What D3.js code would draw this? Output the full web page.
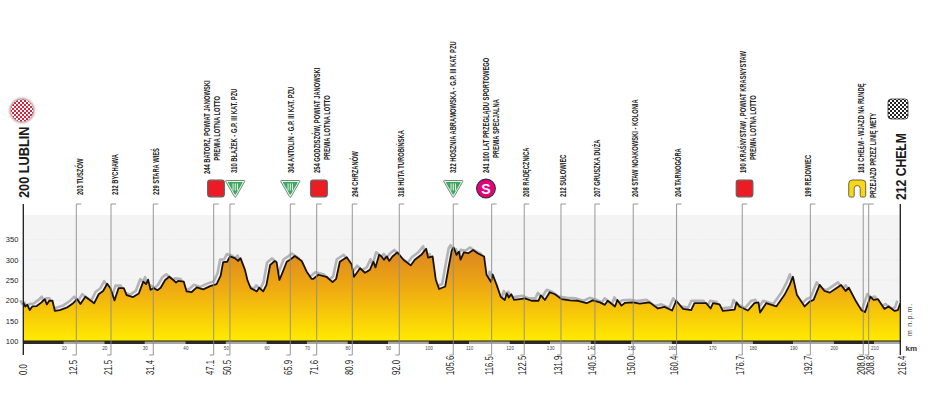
<!DOCTYPE html>
<html><head><meta charset="utf-8">
<script src="https://cdn.jsdelivr.net/npm/d3@7/dist/d3.min.js"></script>
<style>html,body{margin:0;background:#fff}svg{display:block}
.lab{font-family:"Liberation Sans",sans-serif;fill:#222;font-size:9.5px;font-weight:700}
.big{font-family:"Liberation Sans",sans-serif;font-weight:700;font-size:14.5px;fill:#1a1a1a}
.kmv{font-family:"Liberation Sans",sans-serif;font-size:10px;fill:#222}
</style></head><body><svg id="c" width="943" height="402"></svg>
<script>
const profileKm=[0,0.5,1,1.6,2.2,3.3,4.5,5.3,5.8,6.4,7.2,7.8,9,10.7,12.3,13.3,14.1,15.3,16.4,17.5,18.6,19.7,20.7,21.5,22.5,23.5,24.8,25.5,27.1,28.5,29.6,30.3,30.8,31.4,32.2,33.1,33.9,35,36,37,37.7,38.2,39.6,40.3,41.5,42.8,44.4,46.1,47.7,48.7,49.3,50.3,51,52.2,53,53.6,54.7,55.3,56.1,57.6,58.2,59.2,60,60.9,62.1,62.5,63.2,64.1,65,65.8,67,68.7,69.9,71.1,71.6,72.8,74.8,76.3,77.2,78.1,79.8,81,81.6,83.1,84.3,85.5,86.4,86.9,87.8,88.4,89,89.7,90.3,91.1,92.3,93.8,95.6,96.6,98.3,99.4,99.9,101,101.8,102.6,104.1,104.9,105.7,106.2,106.9,107.5,107.9,108.7,109.8,111,112.1,113.7,114.3,115.4,115.8,116.8,117.8,118.8,119.3,119.8,120.4,121.1,122.5,123.8,125.4,127.1,127.7,128.7,129.9,131.2,132.8,134.9,136.9,139,140.5,142.3,143.5,144.2,146,146.6,147.6,148.5,150.4,152.1,154.5,156.6,158.2,160.1,161.1,162.8,164.8,165.6,168.5,169.6,170.2,171.8,172.6,175.5,176,176.7,178.8,180.4,181.4,181.8,183.3,185.8,187.8,189.1,189.9,190.9,192.8,194,195,196.5,197.7,199,200.6,201.8,202.9,203.7,205.5,206.8,207.7,209,209.8,210.9,212.5,213.5,215,215.8,216.4];
const profileElev=[194,185,189,176,185,186,195,203,190,199,199,174,176,182,193,203,191,209,201,193,215,223,241,230,200,230,230,213,208,217,246,240,251,226,230,225,231,250,258,250,244,248,246,222,220,232,227,235,240,261,294,295,308,304,297,304,275,250,230,222,231,222,238,287,297,294,250,272,295,300,309,297,271,253,253,263,258,245,253,295,306,289,258,279,268,275,295,281,312,308,300,308,297,308,318,300,286,300,313,327,305,308,250,228,234,279,322,330,312,320,300,318,316,324,316,308,263,245,264,238,209,201,217,207,215,201,203,205,199,199,212,201,220,215,203,200,199,193,200,195,189,199,185,201,187,194,195,192,195,180,184,175,199,179,176,193,193,180,193,190,174,177,195,185,175,193,195,170,193,185,213,238,258,213,185,197,201,238,223,219,230,238,223,231,197,176,171,209,201,203,179,185,174,176,193];
const yTicks=[100,150,200,250,300,350];
const kmTicks=[10,20,30,40,50,60,70,80,90,100,110,120,130,140,150,160,170,180,190,200,210];
const markerKm=[13.08,21.64,32.07,46.98,50.99,65.88,72.39,81.18,92.77,106.1,115.57,123.6,132.67,141.05,150.5,161.2,177.4,194.2,207.25,208.6];
const markerKmLabel=["12.5","21.5","31.4","47.1","50.5","65.9","71.6","80.9","92.0","105.6","116.5","122.5","131.9","140.5","150.0","160.4","176.7","192.7","208.0","208.8"];
const placeLine1=["203 TUSZÓW","232 BYCHAWA","229 STARA WIEŚ","244 BATORZ, POWIAT JANOWSKI","310 BŁAŻEK - G.P. III KAT. PZU","304 ANTOLIN - G.P. III KAT. PZU","254 GODZISZÓW, POWIAT JANOWSKI","294 CHRZANÓW","318 HUTA TUROBIŃSKA","322 HOSZNIA ABRAMOWSKA - G.P. III KAT. PZU","241 100 LAT PRZEGLĄDU SPORTOWEGO","208 RADĘCZNICA","212 SUŁOWIEC","207 GRUSZKA DUŻA","204 STAW NOAKOWSKI - KOLONIA","204 TARNOGÓRA","190 KRAŚNYSTAW , POWIAT KRASNYSTAW","199 REJOWIEC","181 CHEŁM -  WJAZD NA RUNDĘ","PRZEJAZD PRZEZ LINIĘ METY"];
const placeLine2=["","","","PREMIA LOTNA LOTTO","","","PREMIA LOTNA LOTTO","","","","PREMIA SPECJALNA","","","","","","PREMIA LOTNA LOTTO","","",""];
const icons=["","","","sprint","mountain","mountain","sprint","","","mountain","special","","","","","","sprint","","lap",""];
const startLabel="200 LUBLIN", endLabel="212 CHEŁM";

const svg=d3.select("#c");
const x=d3.scaleLinear().domain([0,216.4]).range([23.3,900.3]);
const y=d3.scaleLinear().domain([100,410]).range([341,215]);
const defs=svg.append("defs");
const g=defs.append("linearGradient").attr("id","fill").attr("gradientUnits","userSpaceOnUse").attr("x1",0).attr("x2",0).attr("y1",y(330)).attr("y2",y(105));
g.append("stop").attr("offset",0).attr("stop-color","#da8420");
g.append("stop").attr("offset",0.45).attr("stop-color","#efaa12");
g.append("stop").attr("offset",1).attr("stop-color","#ffe900");
defs.append("filter").attr("id","soft").attr("x","-5%").attr("y","-20%").attr("width","110%").attr("height","140%").append("feGaussianBlur").attr("stdDeviation",0.7);
defs.append("filter").attr("id","iconShadow").attr("x","-30%").attr("y","-30%").attr("width","160%").attr("height","160%").append("feGaussianBlur").attr("stdDeviation",1.2);
function checker(id,c){const p=defs.append("pattern").attr("id",id).attr("width",4).attr("height",4).attr("patternUnits","userSpaceOnUse");
 p.append("rect").attr("width",4).attr("height",4).attr("fill","#fff");
 p.append("rect").attr("width",2).attr("height",2).attr("fill",c);
 p.append("rect").attr("x",2).attr("y",2).attr("width",2).attr("height",2).attr("fill",c);}
checker("chkR","#d9233a");checker("chkK","#222");

// band + grid
svg.append("rect").attr("x",x(0)).attr("y",y(410)).attr("width",x(216.4)-x(0)).attr("height",y(100)-y(410)).attr("fill","#f4f4f5");
svg.append("g").selectAll("line").data(yTicks.slice(1)).join("line").attr("x1",x(0)).attr("x2",x(216.4)).attr("y1",d=>y(d)).attr("y2",d=>y(d)).attr("stroke","#dcdcdc").attr("stroke-width",0.7).attr("stroke-dasharray","1 2");

const line=d3.line().x((d,i)=>x(profileKm[i])).y(d=>y(d));
const area=d3.area().x((d,i)=>x(profileKm[i])).y0(y(100)).y1(d=>y(d));
svg.append("path").attr("d",line(profileElev)).attr("fill","none").attr("stroke","#b4b4b8").attr("stroke-width",2.6).attr("transform","translate(-3,-2.5)").attr("filter","url(#soft)").attr("stroke-linejoin","round");
svg.append("path").attr("d",area(profileElev)).attr("fill","url(#fill)");
svg.append("path").attr("d",line(profileElev)).attr("fill","none").attr("stroke","#1a1208").attr("stroke-width",1.8).attr("stroke-linejoin","round");

// km strip
const strips=d3.range(0,22).map(i=>i*10);
svg.append("g").selectAll("rect").data(strips).join("rect").attr("x",d=>x(d)).attr("y",341).attr("height",3)
 .attr("width",d=>x(Math.min(d+10,216.4))-x(d)).attr("fill",d=>(d/10)%2==0?"#2e2a26":"#a8a6a3");
svg.append("line").attr("x1",x(0)).attr("x2",x(216.4)).attr("y1",341).attr("y2",341).attr("stroke","#1d1a16").attr("stroke-width",1);

// markers
const lineTop=204,lineBot=355;
const mk=svg.append("g").attr("stroke","#8b8b8b").attr("stroke-width",0.9).attr("fill","none");
mk.selectAll("path").data(markerKm).join("path").attr("d",d=>`M${x(d)+5},${lineTop}H${x(d)}V${lineBot}H${x(d)-4}`);

// axes lines
[0,216.4].forEach(k=>svg.append("line").attr("x1",x(k)).attr("x2",x(k)).attr("y1",lineTop).attr("y2",lineBot).attr("stroke","#1c1c1c").attr("stroke-width",1.3));

// y axis
const ya=svg.append("g").attr("transform",`translate(${x(0)-5},0)`).call(d3.axisLeft(y).tickValues(yTicks).tickSize(0).tickPadding(0));
ya.select(".domain").remove();
ya.selectAll("text").attr("font-family","Liberation Sans, sans-serif").attr("font-size",7.5).attr("font-weight",400).attr("fill","#222");
// km axis
const xa=svg.append("g").attr("transform","translate(0,345)").call(d3.axisBottom(x).tickValues(kmTicks).tickSize(0).tickPadding(2));
xa.select(".domain").remove();
xa.selectAll("text").attr("font-family","Liberation Sans, sans-serif").attr("font-size",4.6).attr("fill","#444");

// bottom km labels
const kmOff=[-2.5,-2.5,-3,-3.5,-2.7,-1.5,-2,-2.5,-3,-3,-2,-2,-2,-2,-2,-2,-2,-1.5,-2,2];
const kmLab=(xp,t)=>svg.append("text").attr("class","kmv").attr("transform",`translate(${xp+3.5},375) rotate(-90) scale(0.77,1)`).text(t);
kmLab(x(0),"0.0");
markerKm.forEach((k,i)=>kmLab(x(k)+kmOff[i],markerKmLabel[i]));
kmLab(x(216.4)+2,"216.4");

// place labels
const lx=[3,3.3,2.7,-6.7,4,0.4,0.6,2.7,1.7,0,-5.7,1.7,2.3,2.3,1.7,1.6,1,-3,-2.3,4.6];
const lb=[195,195,195,174,173,173,173,197,197,173,173,197,197,197,197,197,173,197,173,198];
const l2b=[0,0,0,160.7,0,0,160,0,0,0,158,0,0,0,0,0,160,0,0,0];
const SX=0.61;
const txt=(xp,yp,t)=>svg.append("text").attr("class","lab").attr("transform",`translate(${xp+3.2},${yp}) rotate(-90) scale(${SX},1)`).text(t);
placeLine1.forEach((t,i)=>{const px=x(markerKm[i])+lx[i];txt(px,lb[i],t);if(placeLine2[i])txt(px+10,l2b[i],placeLine2[i]);});

// big labels
svg.append("text").attr("class","big").attr("transform",`translate(${x(0)+5.3},198) rotate(-90) scale(0.88,1)`).text(startLabel);
svg.append("text").attr("class","big").attr("transform",`translate(${x(216.4)+6},200) rotate(-90) scale(0.84,1)`).text(endLabel);
svg.append("text").attr("transform",`translate(911.5,336) rotate(-90)`).attr("font-family","Liberation Sans, sans-serif").attr("font-size",7).attr("letter-spacing",0.7).attr("fill","#333").text("m n.p.m.");
svg.append("text").attr("x",905.5).attr("y",351).attr("font-family","Liberation Sans, sans-serif").attr("font-size",8).attr("font-weight",700).attr("fill","#333").text("km");

// icons
const ic=svg.append("g");
markerKm.forEach((k,i)=>{const t=icons[i];if(!t)return;const cx=x(k)+({sprint:2.3,mountain:i==4?5.3:0,special:-5.7,lap:-6}[t]);const cy=188.5;
 const s=ic.append("g").attr("transform",`translate(${cx},${cy})`);
 if(t=="sprint"){s.append("rect").attr("x",-8.3).attr("y",-8.3).attr("width",16.6).attr("height",16.6).attr("rx",2.5).attr("fill","#ec1c24").attr("stroke","#6a5a5a").attr("stroke-width",1.2);}
 if(t=="mountain"){const tri="M-9,-8H9Q10,-8 9.4,-6.8L0.8,8.2Q0,9.2 -0.8,8.2L-9.4,-6.8Q-10,-8 -9,-8Z";
  s.append("path").attr("d",tri).attr("fill","#e8f2ea").attr("stroke","#6f8f78").attr("stroke-width",1);
  s.append("path").attr("d",tri).attr("transform","translate(0,-0.4) scale(0.76)").attr("fill","#3fa860");
  [-2.2,0,2.2].forEach(d=>s.append("line").attr("x1",d).attr("x2",d).attr("y1",-5).attr("y2",2).attr("stroke","#e9f5ec").attr("stroke-width",1));}
 if(t=="special"){s.append("circle").attr("r",9.4).attr("fill","#e5007e").attr("stroke","#333").attr("stroke-width",1.1);
  s.append("text").attr("text-anchor","middle").attr("y",5).attr("font-family","Liberation Sans, sans-serif").attr("font-weight",700).attr("font-size",14).attr("fill","#fff").text("S");}
 if(t=="lap"){s.append("path").attr("d","M-8.5,7Q-8.5,8.5 -7,8.5H-4Q-3,8.5 -3,7V0Q-3,-3 0,-3Q3,-3 3,0V7Q3,8.5 4,8.5H7Q8.5,8.5 8.5,7V-5Q8.5,-8.5 5,-8.5H-5Q-8.5,-8.5 -8.5,-5Z").attr("fill","#f8d90f").attr("stroke","#555").attr("stroke-width",0.9);}
});
svg.append("circle").attr("cx",22).attr("cy",110.5).attr("r",12.5).attr("fill","#b59a9a").attr("filter","url(#iconShadow)");
svg.append("circle").attr("cx",22).attr("cy",110.5).attr("r",11).attr("fill","url(#chkR)");
svg.append("rect").attr("x",888).attr("y",99).attr("width",20).attr("height",20).attr("rx",3).attr("fill","url(#chkK)").attr("stroke","#333").attr("stroke-width",0.8);
</script></body></html>
